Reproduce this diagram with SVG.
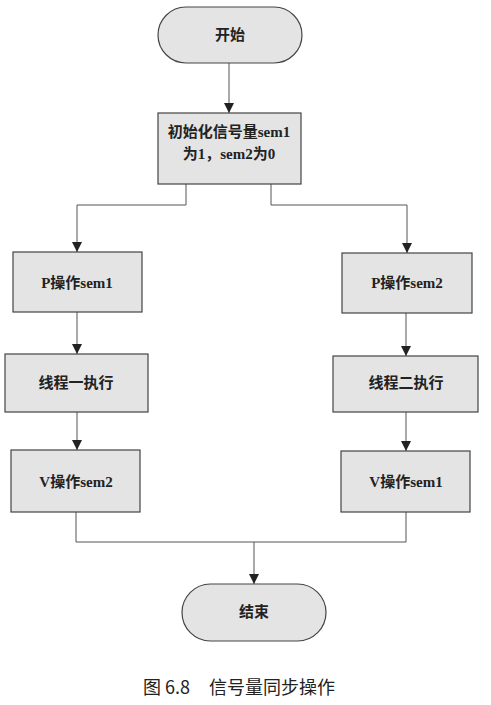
<svg xmlns="http://www.w3.org/2000/svg" width="491" height="705" viewBox="0 0 491 705">
<defs>
<marker id="arr" viewBox="0 0 10 10" refX="10" refY="5" markerWidth="10" markerHeight="10" markerUnits="userSpaceOnUse" orient="auto">
<path d="M0,0 L10,5 L0,10 Z" fill="#222"/>
</marker>
</defs>
<style>
.box{fill:#e4e4e4;stroke:#444;stroke-width:1.2}
.t{font-family:"Liberation Serif","Noto Sans CJK SC",serif;font-weight:bold;font-size:15px;fill:#222;text-anchor:middle}
.c{fill:none;stroke:#555;stroke-width:1;marker-end:url(#arr)}
.l{fill:none;stroke:#555;stroke-width:1}
.cap{font-family:"Noto Sans CJK SC","Liberation Sans",sans-serif;font-size:18px;fill:#222}
</style>
<rect width="491" height="705" fill="#fff"/>
<g id="connectors">
<path class="c" d="M229,63 V113"/>
<path class="c" d="M186,184 V205 H77 V252"/>
<path class="c" d="M271,184 V205 H407 V253"/>
<path class="c" d="M77,312 V354"/>
<path class="c" d="M77,412 V450"/>
<path class="c" d="M406,313 V356"/>
<path class="c" d="M406,412 V451"/>
<path class="l" d="M76,512 V542 H406 V512"/>
<path class="c" d="M254,542 V584"/>
</g>
<g id="start"><rect class="box" x="158" y="7" width="144" height="56" rx="28"/><text class="t" x="230" y="40">开始</text></g>
<g id="init"><rect class="box" x="158" y="113" width="143" height="71"/><text class="t" x="229" y="137">初始化信号量sem1</text><text class="t" x="229" y="159">为1，sem2为0</text></g>
<g id="p1"><rect class="box" x="13" y="252" width="129" height="60"/><text class="t" x="77" y="288">P操作sem1</text></g>
<g id="t1"><rect class="box" x="5" y="354" width="143" height="58"/><text class="t" x="76" y="388">线程一执行</text></g>
<g id="v2"><rect class="box" x="11" y="450" width="129" height="62"/><text class="t" x="76" y="487">V操作sem2</text></g>
<g id="p2"><rect class="box" x="342" y="253" width="130" height="60"/><text class="t" x="407" y="288">P操作sem2</text></g>
<g id="t2"><rect class="box" x="333" y="356" width="145" height="56"/><text class="t" x="406" y="388">线程二执行</text></g>
<g id="v1"><rect class="box" x="341" y="451" width="129" height="61"/><text class="t" x="406" y="487">V操作sem1</text></g>
<g id="end"><rect class="box" x="182" y="584" width="144" height="57" rx="28.5"/><text class="t" x="254" y="617">结束</text></g>
<text class="cap" y="694"><tspan x="143">图 6.8</tspan><tspan x="209">信号量同步操作</tspan></text>
</svg>
